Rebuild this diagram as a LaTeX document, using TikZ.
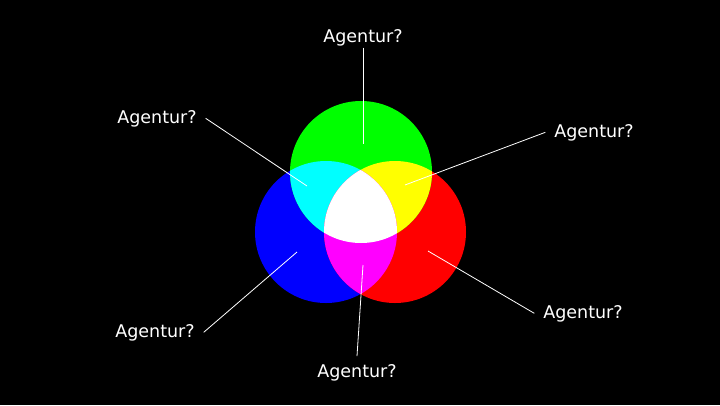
\documentclass[tikz,border=0pt]{standalone}
\usepackage{fontspec}
\setmainfont{DejaVu Sans}
\definecolor{pG}{RGB}{0,255,0}
\definecolor{pB}{RGB}{0,0,255}
\definecolor{pR}{RGB}{255,0,0}
\definecolor{pC}{RGB}{0,255,255}
\definecolor{pY}{RGB}{255,255,0}
\definecolor{pM}{RGB}{255,0,255}
\begin{document}
\begin{tikzpicture}[x=1pt,y=-1pt,
  lbl/.style={text=white,font=\fontsize{17.5}{20}\selectfont,inner xsep=9pt,inner ysep=2pt,outer sep=0pt},
  conn/.style={draw=white,line width=0.8pt}]
\fill[black] (0,0) rectangle (720,405);
\useasboundingbox (0,0) rectangle (720,405);
% circle centres
\def\rr{71}
\coordinate (cg) at (361,172);
\coordinate (cb) at (326,232);
\coordinate (cr) at (395,232);
% primaries
\fill[pB] (cb) circle (\rr);
\fill[pR] (cr) circle (\rr);
\fill[pG] (cg) circle (\rr);
% pairwise overlaps
\begin{scope}
  \clip (cg) circle (\rr);
  \fill[pC] (cb) circle (\rr);
  \fill[pY] (cr) circle (\rr);
\end{scope}
\begin{scope}
  \clip (cb) circle (\rr);
  \fill[pM] (cr) circle (\rr);
\end{scope}
% triple overlap
\begin{scope}
  \clip (cg) circle (\rr);
  \clip (cb) circle (\rr);
  \fill[white] (cr) circle (\rr);
\end{scope}
% labels
\node[lbl,anchor=base] (t)  at (363,42)  {Agentur?};
\node[lbl,anchor=base] (tl) at (157,123) {Agentur?};
\node[lbl,anchor=base] (tr) at (594,137) {Agentur?};
\node[lbl,anchor=base] (bl) at (155,337) {Agentur?};
\node[lbl,anchor=base] (br) at (583,318) {Agentur?};
\node[lbl,anchor=base,inner ysep=8pt] (b) at (357,377) {Agentur?};
% pointer ends
\coordinate (pt)  at (363,144);
\coordinate (ptl) at (307,186);
\coordinate (ptr) at (405,185);
\coordinate (pbl) at (297,252);
\coordinate (pbr) at (428,251);
\coordinate (pb)  at (363,265);
% connectors
\draw[conn] (t.south) -- (pt);
\draw[conn] (tl.east) -- (ptl);
\draw[conn] (tr.west) -- (ptr);
\draw[conn] (bl.east) -- (pbl);
\draw[conn] (br.west) -- (pbr);
\draw[conn] (b.north) -- (pb);
\end{tikzpicture}
\end{document}
